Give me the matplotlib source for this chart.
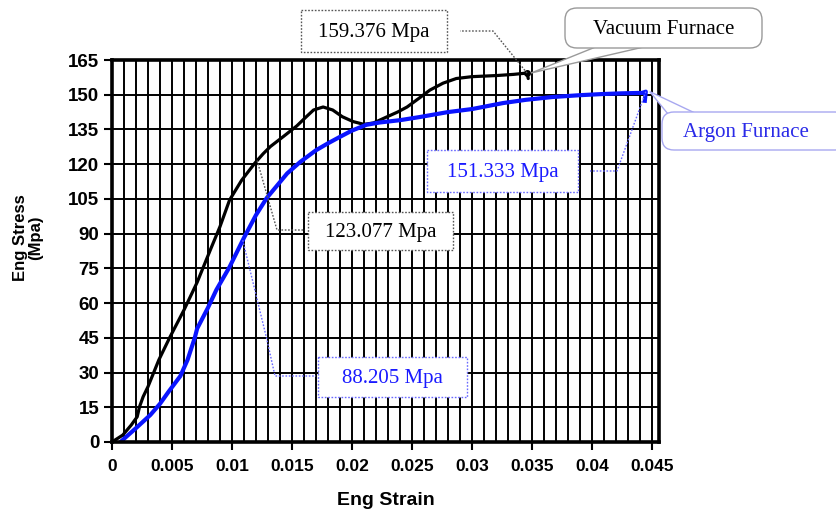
import numpy as np
import matplotlib
matplotlib.use('Agg')
import matplotlib.pyplot as plt
from matplotlib.patches import FancyBboxPatch, Polygon, Rectangle
from matplotlib.lines import Line2D
import matplotlib.transforms as mtransforms
from matplotlib import font_manager

# ---------------- data ----------------
vac_strain = [0, 0.0009, 0.0016, 0.0021, 0.0023, 0.0026, 0.0030, 0.0039, 0.0048, 0.0060,
              0.0071, 0.0082, 0.0090, 0.0098, 0.0108, 0.0119, 0.0126, 0.0132, 0.0143, 0.0154,
              0.0162, 0.0168, 0.0176, 0.0184, 0.0192, 0.0201, 0.0210, 0.0218, 0.0229, 0.0238,
              0.0246, 0.0256, 0.0265, 0.0276, 0.0287, 0.0300, 0.0321, 0.0335, 0.0346, 0.0347]
vac_stress = [0, 3, 7.3, 10.9, 15.3, 19.6, 23.9, 35.4, 45, 57,
              69, 83, 93, 104.5, 113, 120.4, 124.5, 127.6, 132, 136.5,
              140.5, 143.4, 144.7, 143.4, 140.5, 138.4, 137.2, 137.8, 140.4, 142.5,
              144.7, 148.5, 152, 155, 157, 157.8, 158.3, 158.8, 159.376, 157]

arg_strain = [0.0007, 0.0020, 0.0032, 0.0040, 0.0047, 0.0057, 0.0063, 0.0069, 0.0071, 0.0080,
              0.0087, 0.0098, 0.0110, 0.0120, 0.0129, 0.0138, 0.0146, 0.0157, 0.0170, 0.0180,
              0.0190, 0.0200, 0.0212, 0.0223, 0.0240, 0.0257, 0.0280, 0.0300, 0.0326, 0.0345,
              0.0367, 0.0390, 0.0409, 0.0425, 0.0442, 0.0445, 0.0444]
arg_stress = [0, 6, 11.7, 16.5, 21.6, 28.5, 35.5, 45, 49, 58,
              65.7, 75.6, 88.2, 98, 105.4, 111, 116, 121, 126, 129,
              131.8, 134.5, 137, 138, 139, 140.4, 142.5, 143.8, 146.4, 147.8,
              149, 149.8, 150.3, 150.6, 150.8, 151.333, 146.5]

x_ticks = [0, 0.005, 0.01, 0.015, 0.02, 0.025, 0.03, 0.035, 0.04, 0.045]
x_tick_labels = ['0', '0.005', '0.01', '0.015', '0.02', '0.025', '0.03', '0.035', '0.04', '0.045']
y_ticks = [0, 15, 30, 45, 60, 75, 90, 105, 120, 135, 150, 165]
y_tick_labels = [str(v) for v in y_ticks]

ann_labels = ['159.376 Mpa', '123.077 Mpa', '88.205 Mpa', '151.333 Mpa']
ann_strain = [0.0346, 0.0121, 0.0109, 0.0445]
ann_series = ['vac', 'vac', 'arg', 'arg']
callout_labels = ['Vacuum Furnace', 'Argon Furnace']

# ---------------- fonts ----------------
avail = {f.name for f in font_manager.fontManager.ttflist}
sans = 'Liberation Sans' if 'Liberation Sans' in avail else 'DejaVu Sans'
serif = 'Liberation Serif' if 'Liberation Serif' in avail else 'DejaVu Serif'

W, H = 837, 515
fig = plt.figure(figsize=(W / 100, H / 100), dpi=100)
fig.patch.set_facecolor('white')
ax = fig.add_axes([112 / W, 1 - 442 / H, (659 - 112) / W, (442 - 60) / H])

BLUE = '#0a14ff'
ax.plot(vac_strain, vac_stress, color='black', lw=2.3, zorder=3, solid_capstyle='round')
ax.plot(arg_strain, arg_stress, color=BLUE, lw=3.0, zorder=3, solid_capstyle='butt')
ax.plot([vac_strain[-2]], [vac_stress[-2]], 'o', color='black', ms=4, zorder=4)

ax.set_xlim(0, 0.0456)
ax.set_ylim(0, 165)

# grid
for gx in np.arange(0.001, 0.0456, 0.001):
    ax.axvline(gx, color='black', lw=1.4, zorder=1)
for gy in y_ticks[1:-1]:
    ax.axhline(gy, color='black', lw=1.4, zorder=1)

ax.set_xticks(x_ticks)
ax.set_xticklabels(x_tick_labels)
ax.set_yticks(y_ticks)
ax.set_yticklabels(y_tick_labels)
ax.tick_params(axis='both', direction='out', length=6, width=1.5)
ax.tick_params(axis='x', pad=6, labelsize=12.5)
ax.tick_params(axis='y', pad=3, labelsize=13.5)
for lab in ax.get_xticklabels() + ax.get_yticklabels():
    lab.set_fontfamily(sans)
    lab.set_fontweight('bold')
for sp in ax.spines.values():
    sp.set_linewidth(2.6)
    sp.set_zorder(5)

ax.set_xlabel('Eng Strain', fontsize=14, fontweight='bold', family=sans, labelpad=13)
fig.text(28 / W, 1 - 238 / H, 'Eng Stress\n(Mpa)', rotation=90, ha='center', va='center',
         fontsize=12, fontweight='bold', family=sans, linespacing=0.95)

# ---------------- annotations (pixel coordinates of the figure) ----------------
pxT = mtransforms.Affine2D().scale(1 / W, -1 / H).translate(0, 1) + fig.transFigure


def to_px(x, y):
    disp = ax.transData.transform((x, y))
    return pxT.inverted().transform(disp)


series = {'vac': (vac_strain, vac_stress), 'arg': (arg_strain, arg_stress)}

# label boxes: (x0, y0, w, h), elbow path, text colour, edge colour
box_specs = [
    ((301, 10, 146, 42), [(493, 31), (460, 31)], 'black', '#555555'),
    ((308, 212, 145, 38), [(277, 230), (305, 230)], 'black', '#555555'),
    ((318, 357, 149, 40), [(267, 340), (275, 376), (316, 376)], '#1a1aff', '#6a6aff'),
    ((427, 150, 151, 42), [(617, 171), (590, 171)], '#1a1aff', '#6a6aff'),
]

fig.canvas.draw()
for i, (lab, sx, ser, spec) in enumerate(zip(ann_labels, ann_strain, ann_series, box_specs)):
    xs, ys = series[ser]
    if i == 0:
        px0 = to_px(vac_strain[-2], vac_stress[-2])
    elif i == 3:
        px0 = to_px(arg_strain[-2], arg_stress[-2])
    else:
        px0 = to_px(sx, np.interp(sx, xs, ys))
    (bx, by, bw, bh), elbow, tcol, ecol = spec
    pts = [tuple(px0)] + elbow
    fig.add_artist(Line2D([p[0] for p in pts], [p[1] for p in pts], transform=pxT,
                          color=ecol, lw=1.0, linestyle=(0, (1.2, 1.2)), zorder=6))
    fig.add_artist(Rectangle((bx, by), bw, bh, transform=pxT, facecolor='white',
                             edgecolor=ecol, lw=1.0, linestyle=(0, (1.2, 1.2)), zorder=7))
    fig.text(bx + bw / 2, by + bh / 2 + 1, lab, transform=pxT, ha='center', va='center',
             fontsize=15, family=serif, color=tcol, zorder=8)

# callouts
vac_end = to_px(vac_strain[-2], vac_stress[-2])
arg_end = to_px(arg_strain[-2], arg_stress[-2])
callouts = [
    (callout_labels[0], (565, 8, 197, 40), [(598, 46), (648, 46)], vac_end, 'black', '#9a9a9a'),
    (callout_labels[1], (662, 112, 185, 38), [(668, 114), (697, 114)], arg_end, '#2a2ae8', '#a8a8f0'),
]
for lab, (bx, by, bw, bh), base, apex, tcol, ecol in callouts:
    tail = Polygon([(apex[0] + 4, apex[1]), base[0], base[1]], closed=True, transform=pxT,
                   facecolor='white', edgecolor=ecol, lw=1.0, zorder=9)
    fig.add_artist(tail)
    box = FancyBboxPatch((bx, by), bw, bh, boxstyle='round,pad=0,rounding_size=12',
                         transform=pxT, facecolor='white', edgecolor=ecol, lw=1.0, zorder=10)
    fig.add_artist(box)
    fig.text(bx + bw / 2 if bx + bw < W else 746, by + bh / 2 + 1, lab, transform=pxT,
             ha='center', va='center', fontsize=15, family=serif, color=tcol, zorder=11)

fig.savefig('out.png', dpi=100, facecolor='white')
